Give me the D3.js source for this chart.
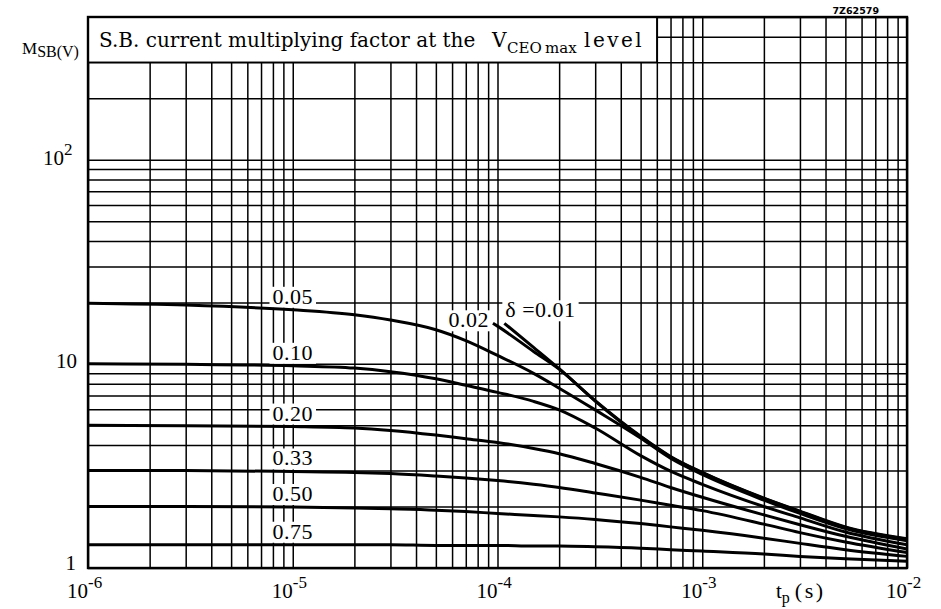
<!DOCTYPE html>
<html>
<head>
<meta charset="utf-8">
<script src="https://cdn.jsdelivr.net/npm/d3@7"></script>
<style>
  body { margin: 0; background: #fff; }
  text { font-family: "Liberation Serif", "Times New Roman", serif; fill: #000; }
</style>
</head>
<body>
<div id="wrapper"></div>
<script>
// pulse time (s) for the curves that start at the left edge
const tp = [1e-6, 3e-6, 1e-5, 2e-5, 3e-5, 5e-5, 7e-5, 1e-4, 1.5e-4, 2e-4, 3e-4, 5e-4, 7e-4, 1e-3, 2e-3, 3e-3, 5e-3, 1e-2]
const m005 = [19.8, 19.4, 18.4, 17.4, 16.4, 14.7, 13.0, 11.0, 8.98, 7.6, 5.95, 4.33, 3.45, 2.87, 2.15, 1.85, 1.56, 1.36]
const m010 = [10, 9.95, 9.78, 9.53, 9.15, 8.45, 7.85, 7.25, 6.55, 5.95, 4.85, 3.55, 2.98, 2.57, 2.0, 1.76, 1.50, 1.30]
const m020 = [5.0, 4.98, 4.93, 4.85, 4.72, 4.48, 4.30, 4.12, 3.85, 3.63, 3.25, 2.78, 2.48, 2.22, 1.82, 1.63, 1.43, 1.24]
const m033 = [3.0, 3.0, 2.97, 2.94, 2.90, 2.82, 2.76, 2.68, 2.57, 2.48, 2.33, 2.15, 2.03, 1.91, 1.64, 1.49, 1.34, 1.19]
const m050 = [2.0, 2.0, 1.99, 1.97, 1.95, 1.92, 1.89, 1.85, 1.81, 1.78, 1.73, 1.65, 1.59, 1.53, 1.40, 1.32, 1.23, 1.14]
const m075 = [1.3, 1.3, 1.3, 1.3, 1.3, 1.29, 1.29, 1.29, 1.28, 1.28, 1.27, 1.25, 1.23, 1.21, 1.17, 1.14, 1.11, 1.08]
// the two low duty-cycle curves only start near 1e-4 s
const tp002 = [9.5e-5, 1e-4, 1.5e-4, 2e-4, 3e-4, 5e-4, 7e-4, 1e-3, 2e-3, 3e-3, 5e-3, 1e-2]
const m002 = [15.8, 15.3, 11.5, 9.42, 6.57, 4.39, 3.5, 2.93, 2.19, 1.89, 1.58, 1.385]
const tp001 = [1.08e-4, 1.5e-4, 2e-4, 3e-4, 5e-4, 7e-4, 1e-3, 2e-3, 3e-3, 5e-3, 1e-2]
const m001 = [15.8, 12.05, 9.47, 6.6, 4.42, 3.52, 2.94, 2.2, 1.9, 1.59, 1.39]

const flatNames = ["0.05", "0.10", "0.20", "0.33", "0.50", "0.75"]
const flatSeries = [m005, m010, m020, m033, m050, m075]

const xLabelVals = [1e-6, 1e-5, 1e-4, 1e-3, 1e-2]
const xLabelExps = ["-6", "-5", "-4", "-3", "-2"]

const dims = { width: 941, height: 609, left: 88, right: 907, top: 17, bottom: 568 }

const svg = d3.select("#wrapper").append("svg")
  .attr("width", dims.width).attr("height", dims.height)

const x = d3.scaleLog().domain([1e-6, 1e-2]).range([dims.left, dims.right])
const y = d3.scaleLog().domain([1, 500]).range([dims.bottom, dims.top])

// grid from the log axes
svg.append("g")
  .attr("transform", `translate(0,${dims.bottom})`)
  .call(d3.axisBottom(x).tickSize(-(dims.bottom - dims.top)).tickFormat(""))
svg.append("g")
  .attr("transform", `translate(${dims.left},0)`)
  .call(d3.axisLeft(y).tickSize(-(dims.right - dims.left)).tickFormat(""))
svg.selectAll(".domain").remove()
svg.selectAll(".tick line").attr("stroke", "#000").attr("stroke-width", 1.5)

// title box
svg.append("rect")
  .attr("x", dims.left).attr("y", dims.top)
  .attr("width", x(6e-4) - dims.left).attr("height", y(300) - dims.top)
  .attr("fill", "#fff").attr("stroke", "#000").attr("stroke-width", 1.5)
const title = svg.append("text").attr("y", 47)
  .style("font-family", "'DejaVu Serif', serif").attr("font-size", 20)
title.append("tspan").attr("x", 99).text("S.B. current multiplying factor at the")
title.append("tspan").attr("x", 492).text("V")
title.append("tspan").attr("x", 507).attr("dy", 6).attr("font-size", 15).text("CEO")
title.append("tspan").attr("x", 545).attr("font-size", 15).text("max")
title.append("tspan").attr("x", 584).attr("dy", -6).attr("letter-spacing", 2.5).text("level")

// frame
svg.append("rect")
  .attr("x", dims.left).attr("y", dims.top)
  .attr("width", dims.right - dims.left).attr("height", dims.bottom - dims.top)
  .attr("fill", "none").attr("stroke", "#000").attr("stroke-width", 2.4)

const line = d3.line().x(d => x(d[0])).y(d => y(d[1])).curve(d3.curveMonotoneX)

// white patches behind curve labels, then curves on top
const labelLayer = svg.append("g")
const curveLayer = svg.append("g")

function addLabel(txt, px, py, anchor) {
  const t = svg.append("text")
    .attr("x", px).attr("y", py)
    .attr("text-anchor", anchor)
    .attr("font-size", 22)
    .attr("letter-spacing", 0.5)
    .text(txt)
  const b = t.node().getBBox()
  labelLayer.append("rect")
    .attr("x", b.x - 3).attr("y", b.y + 3)
    .attr("width", b.width + 6).attr("height", b.height - 4)
    .attr("fill", "#fff")
  return t
}

flatSeries.forEach((vals, i) => {
  curveLayer.append("path")
    .attr("d", line(tp.map((t, j) => [t, vals[j]])))
    .attr("fill", "none").attr("stroke", "#000").attr("stroke-width", 3)
  addLabel(flatNames[i], x(1e-5), y(vals[2]) - 6, "middle")
})

curveLayer.append("path")
  .attr("d", line(tp002.map((t, j) => [t, m002[j]])))
  .attr("fill", "none").attr("stroke", "#000").attr("stroke-width", 3)
curveLayer.append("path")
  .attr("d", line(tp001.map((t, j) => [t, m001[j]])))
  .attr("fill", "none").attr("stroke", "#000").attr("stroke-width", 3)
addLabel("0.02", x(tp002[0]) - 4, y(m002[0]) + 4, "end")
addLabel("\u03b4 =0.01", x(tp001[0]) + 1, y(m001[0]) - 6, "start")

// y axis labels
svg.append("text").attr("x", 76).attr("y", 570).attr("text-anchor", "end").attr("font-size", 21).text("1")
svg.append("text").attr("x", 77).attr("y", 368).attr("text-anchor", "end").attr("font-size", 21).text("10")
const y2 = svg.append("text").attr("x", 43).attr("y", 165).attr("font-size", 21)
y2.append("tspan").text("10")
y2.append("tspan").attr("dy", -10).attr("font-size", 17).text("2")
const yl = svg.append("text").attr("x", 22).attr("y", 54).attr("font-size", 17)
yl.append("tspan").text("M")
yl.append("tspan").attr("dy", 3).attr("font-size", 16).text("SB(V)")

// x axis labels
xLabelVals.forEach((v, i) => {
  const t = svg.append("text").attr("x", x(v) - 21).attr("y", 598).attr("font-size", 21)
  t.append("tspan").text("10")
  t.append("tspan").attr("dy", -10).attr("font-size", 17).text(xLabelExps[i])
})
const xl = svg.append("text").attr("x", 776).attr("y", 598).attr("font-size", 21)
xl.append("tspan").text("t")
xl.append("tspan").attr("dy", 5).attr("font-size", 16).text("p")
xl.append("tspan").attr("dy", -5).attr("dx", 5).attr("font-size", 22).attr("letter-spacing", 2.5).text("(s)")

svg.append("text").attr("x", 879).attr("y", 14).attr("text-anchor", "end")
  .style("font-family", "'DejaVu Sans', sans-serif")
  .attr("font-size", 9.5).attr("font-weight", "bold").text("7Z62579")
</script>
</body>
</html>
